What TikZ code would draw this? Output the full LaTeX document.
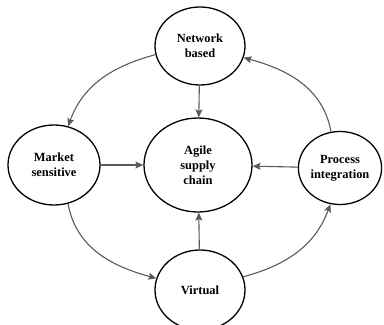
\documentclass[tikz,border=0pt]{standalone}
\usepackage{fontspec}
\setmainfont{Liberation Serif}
\usepackage{tikz}
\usetikzlibrary{shapes.geometric, arrows.meta}
\tikzset{>={Stealth[length=8pt,width=7pt,inset=1.5pt]}}
\tikzset{
	blob/.style={ellipse, draw=black, line width=1.3pt, inner sep=0pt, align=center,
		font=\fontsize{12.5}{15}\selectfont\bfseries},
	link/.style={->, draw=black!65, line width=1.1pt}
}

\begin{document}
\begin{tikzpicture}[x=1bp, y=1bp]
			\useasboundingbox (0,0) rectangle (384,325);
			\node[blob, minimum width=90bp, minimum height=78bp] (net) at (200,279) {Network\\based};
			\node[blob, minimum width=108bp, minimum height=94bp] (asc) at (198,160) {Agile\\supply\\chain};
			\node[blob, minimum width=92bp, minimum height=80bp] (mkt) at (54,160) {Market\\sensitive};
			\node[blob, minimum width=83bp, minimum height=73bp] (proc) at (340,157) {Process\\integration};
			\node[blob, minimum width=90bp, minimum height=80bp] (virt) at (200,35) {Virtual};
			% spokes into the centre
			\draw[link] (net) -- (asc);
			\draw[link] (mkt) -- (asc);
			\draw[link] (proc) -- (asc);
			\draw[link] (virt) -- (asc);
			% outer ring
			\draw[link] (net.191) to[out=195, in=70] (mkt.70);
			\draw[link] (mkt.290) to[out=280, in=165] (virt.165);
			\draw[link] (virt.17) to[out=15, in=250] (proc.255);
			\draw[link] (proc.104) to[out=100, in=345] (net.345);
		\end{tikzpicture}
\end{document}
